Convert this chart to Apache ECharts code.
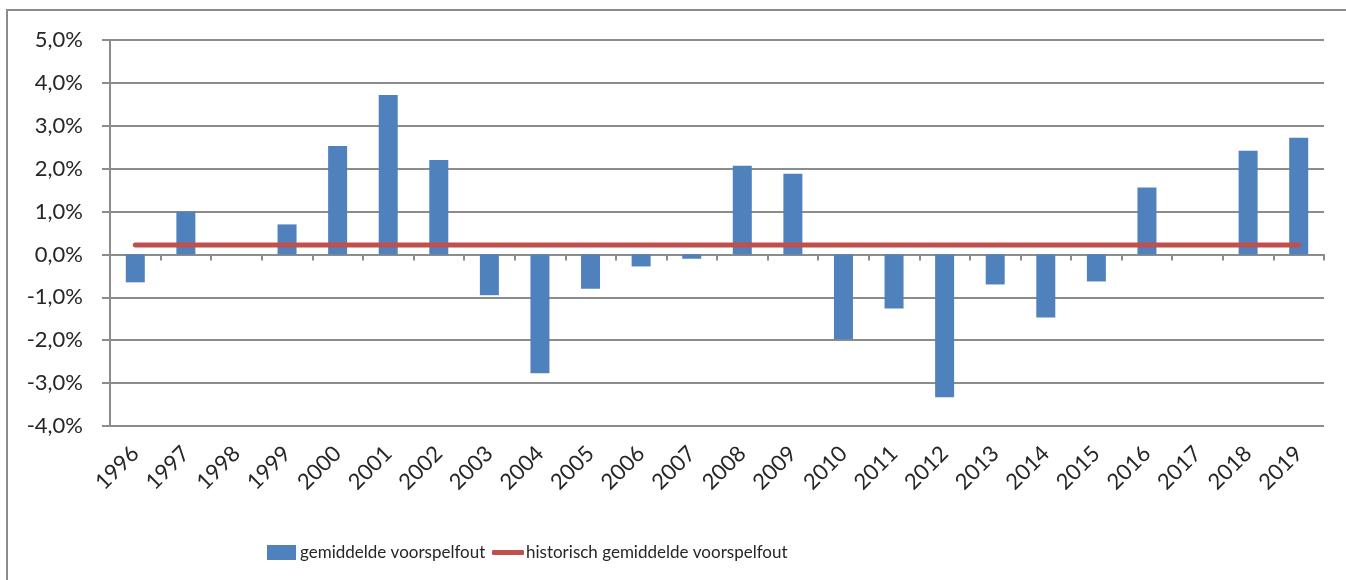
<!DOCTYPE html>
<html>
<head>
<meta charset="utf-8">
<script src="https://cdn.jsdelivr.net/npm/echarts@6/dist/echarts.min.js"></script>
<style>
  html, body { margin: 0; padding: 0; background: #fff; }
  #wrap { position: relative; width: 1346px; height: 580px; }
  #chart { width: 1346px; height: 580px; }
  #frame {
    position: absolute; left: 6px; top: 9px; right: -4px; bottom: -4px;
    border-left: 2px solid #8c8c8c; border-top: 2px solid #8c8c8c;
    pointer-events: none;
  }
</style>
</head>
<body>
<div id="wrap">
  <div id="chart"></div>
  <div id="frame"></div>
</div>
<script>
// jaren
var years = ['1996', '1997', '1998', '1999', '2000', '2001', '2002', '2003', '2004', '2005', '2006', '2007',
  '2008', '2009', '2010', '2011', '2012', '2013', '2014', '2015', '2016', '2017', '2018', '2019'];
// gemiddelde voorspelfout per jaar (%)
var forecastError = [-0.65, 1.0, 0, 0.7, 2.53, 3.72, 2.2, -0.95, -2.77, -0.8, -0.28, -0.1,
  2.07, 1.88, -1.98, -1.26, -3.33, -0.7, -1.47, -0.63, 1.56, 0, 2.42, 2.72];
// historisch gemiddelde (%)
var historicAvg = [0.22, 0.22, 0.22, 0.22, 0.22, 0.22, 0.22, 0.22, 0.22, 0.22, 0.22, 0.22,
  0.22, 0.22, 0.22, 0.22, 0.22, 0.22, 0.22, 0.22, 0.22, 0.22, 0.22, 0.22];
var yMin = -4, yMax = 5, yStep = 1;

var font = 'Lato, "Open Sans", sans-serif';
var txt = '#262626';
var axisGray = '#8c8c8c';

var chart = echarts.init(document.getElementById('chart'));
chart.setOption({
  animation: false,
  textStyle: { fontFamily: font },
  grid: { left: 110, right: 22, top: 40, bottom: 154, containLabel: false },
  legend: [
    {
      left: 262, top: 539,
      itemWidth: 29, itemHeight: 15, itemGap: 4,
      icon: 'rect',
      textStyle: { fontFamily: font, fontSize: 17, color: txt, padding: [0, 0, 0, -1] },
      data: ['gemiddelde voorspelfout']
    },
    {
      left: 487, top: 539,
      itemWidth: 32, itemHeight: 5,
      icon: 'roundRect',
      textStyle: { fontFamily: font, fontSize: 17, color: txt, padding: [0, 0, 0, -3] },
      data: ['historisch gemiddelde voorspelfout']
    }
  ],
  xAxis: [
    {
      type: 'category',
      data: years,
      boundaryGap: true,
      axisLine: { onZero: true, lineStyle: { color: axisGray, width: 2 } },
      axisTick: { show: true, inside: false, length: 6, lineStyle: { color: axisGray, width: 2 } },
      axisLabel: { show: false }
    },
    {
      type: 'category',
      data: years,
      position: 'bottom',
      boundaryGap: true,
      axisLine: { show: false, onZero: false },
      axisTick: { show: false },
      axisLabel: {
        rotate: 45, margin: 24, interval: 0,
        fontFamily: font, fontSize: 22, color: txt
      }
    }
  ],
  yAxis: {
    type: 'value',
    min: yMin, max: yMax, interval: yStep,
    axisLine: { show: true, lineStyle: { color: axisGray, width: 2 } },
    axisTick: { show: true, length: 8, lineStyle: { color: axisGray, width: 2 } },
    splitLine: { show: true, lineStyle: { color: axisGray, width: 2 } },
    axisLabel: {
      margin: 27, fontFamily: font, fontSize: 22, color: txt,
      formatter: function (v) { return v.toFixed(1).replace('.', ',') + '%'; }
    }
  },
  series: [
    {
      name: 'gemiddelde voorspelfout',
      type: 'bar',
      xAxisIndex: 0,
      barWidth: 19,
      itemStyle: { color: '#4f81bd' },
      data: forecastError
    },
    {
      name: 'historisch gemiddelde voorspelfout',
      type: 'line',
      xAxisIndex: 0,
      symbol: 'none',
      lineStyle: { color: '#c0504d', width: 5, cap: 'round' },
      itemStyle: { color: '#c0504d' },
      data: historicAvg
    }
  ]
});
</script>
</body>
</html>
